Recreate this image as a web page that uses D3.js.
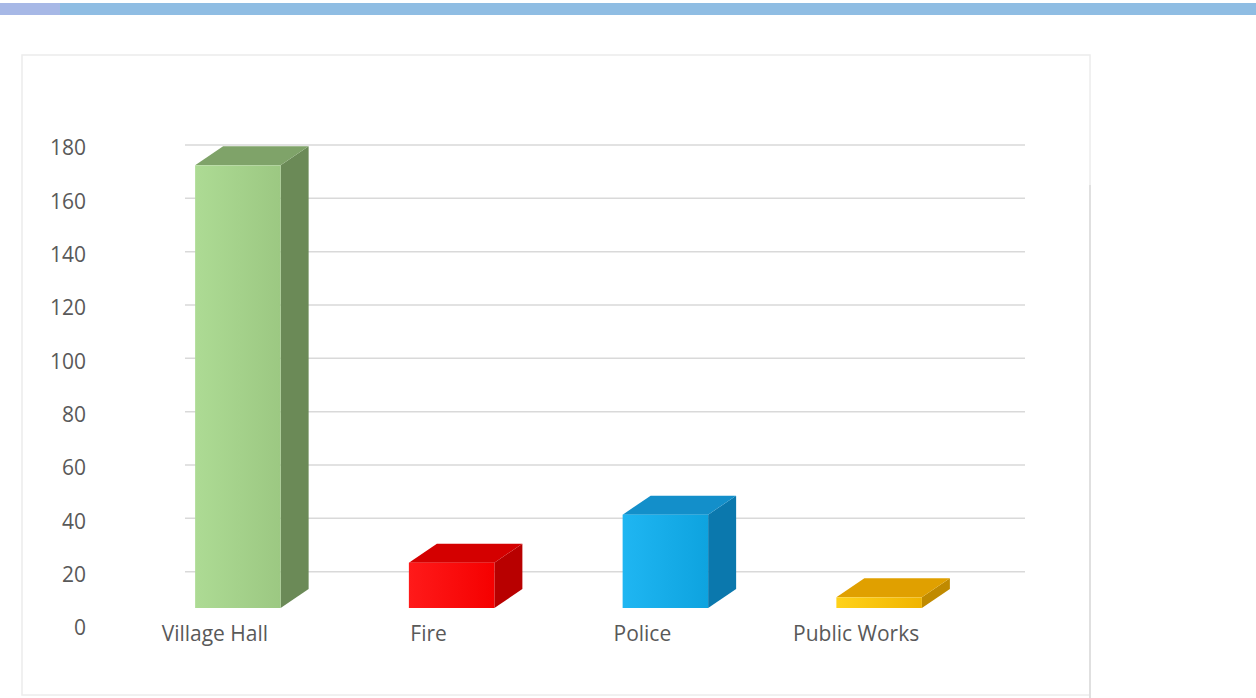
<!DOCTYPE html>
<html>
<head>
<meta charset="utf-8">
<script src="https://cdn.jsdelivr.net/npm/d3@7"></script>
<style>
  body { margin: 0; background: #fff; }
  text { font-family: "Open Sans", "Noto Sans", sans-serif; fill: #595959; }
</style>
</head>
<body>
<div id="app"></div>
<script>
var svgWidth = 1256, svgHeight = 698;

// data
var categories = ["Village Hall", "Fire", "Police", "Public Works"];
var values = [166, 17, 35, 4];
var yTicks = [0, 20, 40, 60, 80, 100, 120, 140, 160, 180];

// colours per bar: front, side, top
var faceColors = [
  { front: ["#addb94", "#9cc882"], side: "#6b8a57", top: "#7fa369" },
  { front: ["#ff1a1a", "#f50000"], side: "#b80000", top: "#d40000" },
  { front: ["#1fb6f2", "#0ea3df"], side: "#0b78ad", top: "#138fca" },
  { front: ["#ffd21a", "#f0b400"], side: "#c08a00", top: "#e0a000" }
];

var depthX = 28, depthY = 19, floorLift = 17;

var svg = d3.select("#app")
  .append("svg")
  .attr("width", svgWidth)
  .attr("height", svgHeight);

// top banner strip
svg.append("rect").attr("x", 0).attr("y", 3).attr("width", svgWidth).attr("height", 12).attr("fill", "#8fbde3");
svg.append("rect").attr("x", 0).attr("y", 3).attr("width", 60).attr("height", 12).attr("fill", "#a7b8e6");

// chart frame
svg.append("rect")
  .attr("x", 22).attr("y", 55)
  .attr("width", 1068).attr("height", 640)
  .attr("fill", "#fff")
  .attr("stroke", "#ececec").attr("stroke-width", 1.5);

var y = d3.scaleLinear().domain([0, 180]).range([625, 145]);
var x = d3.scalePoint().domain(categories).range([108, 963]).padding(0.5);
var step = x.step();
var barW = step * 0.4;

// gridlines (back wall)
svg.append("g").selectAll("line")
  .data(yTicks.filter(function (d) { return d > 0; }))
  .enter().append("line")
  .attr("x1", 185).attr("x2", 1025)
  .attr("y1", function (d) { return y(d); })
  .attr("y2", function (d) { return y(d); })
  .attr("stroke", "#d9d9d9").attr("stroke-width", 1.5);

// y axis labels
var yAxis = d3.axisLeft(y).tickValues(yTicks).tickSize(0).tickPadding(0);
svg.append("g")
  .attr("transform", "translate(86,3)")
  .call(yAxis)
  .call(function (g) { g.select(".domain").remove(); })
  .selectAll("text")
  .attr("font-size", 21)
  .style("font-family", "'Open Sans', sans-serif")
  .attr("fill", "#595959");

// gradients for front faces
var defs = svg.append("defs");
faceColors.forEach(function (c, i) {
  var g = defs.append("linearGradient").attr("id", "front" + i)
    .attr("x1", "0").attr("x2", "1").attr("y1", "0").attr("y2", "0");
  g.append("stop").attr("offset", "0%").attr("stop-color", c.front[0]);
  g.append("stop").attr("offset", "100%").attr("stop-color", c.front[1]);
});

// 3d bars
var bars = svg.append("g").selectAll("g")
  .data(categories.map(function (c, i) { return { name: c, value: values[i], i: i }; }))
  .enter().append("g");

bars.each(function (d) {
  var g = d3.select(this);
  var x0 = x(d.name) + 23 - barW / 2;
  var x1 = x0 + barW;
  var yb = y(0) - floorLift;
  var yt = y(d.value) - floorLift;
  var c = faceColors[d.i];
  // side
  g.append("path")
    .attr("d", "M" + x1 + "," + yt + "L" + (x1 + depthX) + "," + (yt - depthY) +
      "L" + (x1 + depthX) + "," + (yb - depthY) + "L" + x1 + "," + yb + "Z")
    .attr("fill", c.side);
  // top
  g.append("path")
    .attr("d", "M" + x0 + "," + yt + "L" + (x0 + depthX) + "," + (yt - depthY) +
      "L" + (x1 + depthX) + "," + (yt - depthY) + "L" + x1 + "," + yt + "Z")
    .attr("fill", c.top);
  // front
  g.append("rect")
    .attr("x", x0).attr("y", yt)
    .attr("width", barW).attr("height", yb - yt)
    .attr("fill", "url(#front" + d.i + ")");
});

// category labels
svg.append("g").selectAll("text")
  .data(categories)
  .enter().append("text")
  .attr("x", function (d) { return x(d); })
  .attr("y", 641)
  .attr("text-anchor", "middle")
  .attr("font-size", 21)
  .text(function (d) { return d; });

// right side panel divider
svg.append("line")
  .attr("x1", 1090).attr("x2", 1090).attr("y1", 185).attr("y2", 698)
  .attr("stroke", "#e0e0e0").attr("stroke-width", 2);
</script>
</body>
</html>
